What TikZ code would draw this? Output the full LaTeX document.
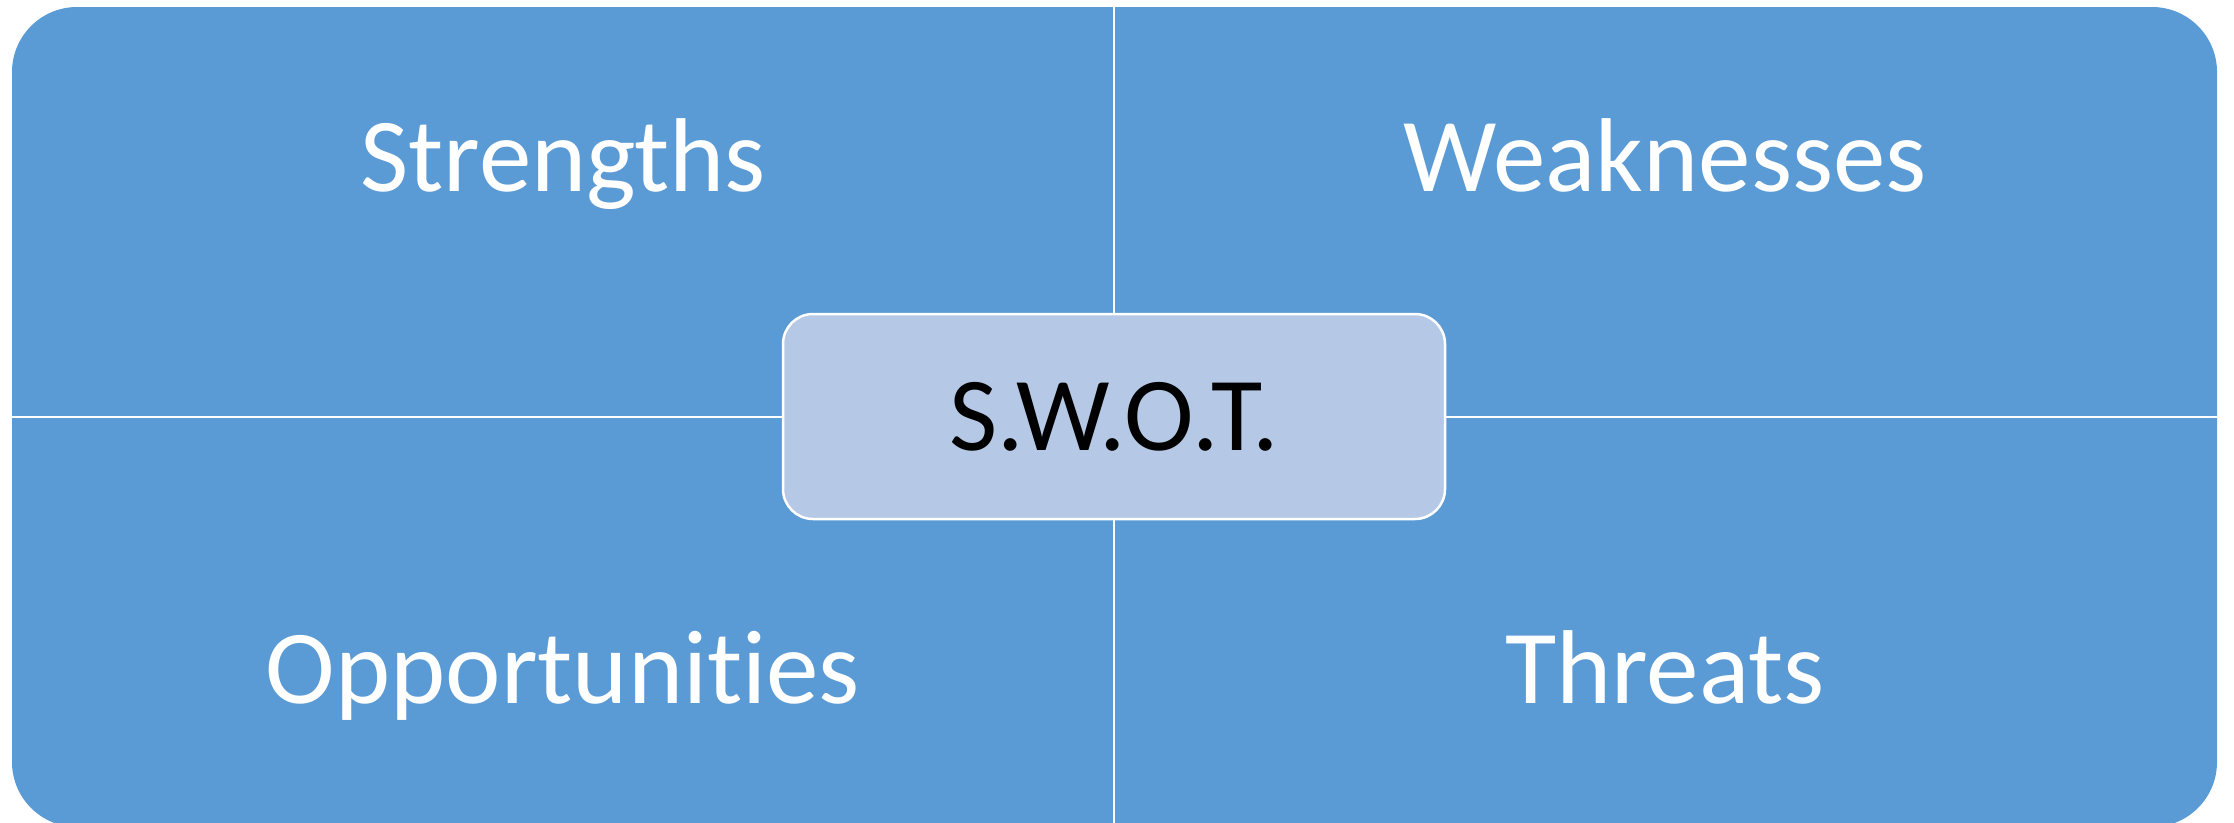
\documentclass[tikz,border=0pt]{standalone}
\usepackage{fontspec}
\setmainfont{Carlito}[Ligatures=NoCommon]
\usepackage{tikz}
\usetikzlibrary{positioning}

\definecolor{quadblue}{RGB}{91,155,213}
\definecolor{coreblue}{RGB}{181,201,231}

\tikzset{
  quad/.style={fill=quadblue, rounded corners=65pt},
  divider/.style={draw=white, line width=2.5pt},
  quadtext/.style={text=white, anchor=base, font=\fontsize{105}{126}\selectfont},
  core/.style={rectangle, rounded corners=30pt, fill=coreblue, draw=white,
    line width=2.5pt, minimum width=662pt, minimum height=205pt,
    font=\fontsize{105}{126}\selectfont}
}

\begin{document}
\begin{tikzpicture}[x=1pt, y=-1pt]
    \useasboundingbox (0,0) rectangle (2234,822);
    \fill[quad] (12,7) rectangle (2217,827);

    \coordinate(top_mid) at (1114,7);
    \coordinate(bot_mid) at (1114,827);
    \coordinate(left_mid) at (12,417);
    \coordinate(right_mid) at (2217,417);
    \draw[divider] (top_mid) -- (bot_mid);
    \draw[divider] (left_mid) -- (right_mid);

    \node(strengths)[quadtext] at (563,191){Strengths};
    \node(weaknesses)[quadtext] at (1665,191){Weaknesses};
    \node(opportunities)[quadtext] at (563,703){Opportunities};
    \node(threats)[quadtext] at (1665,703){Threats};

    \node(swot)[core] at (1114,416.5){S.W.O.T.};
  \end{tikzpicture}
\end{document}
